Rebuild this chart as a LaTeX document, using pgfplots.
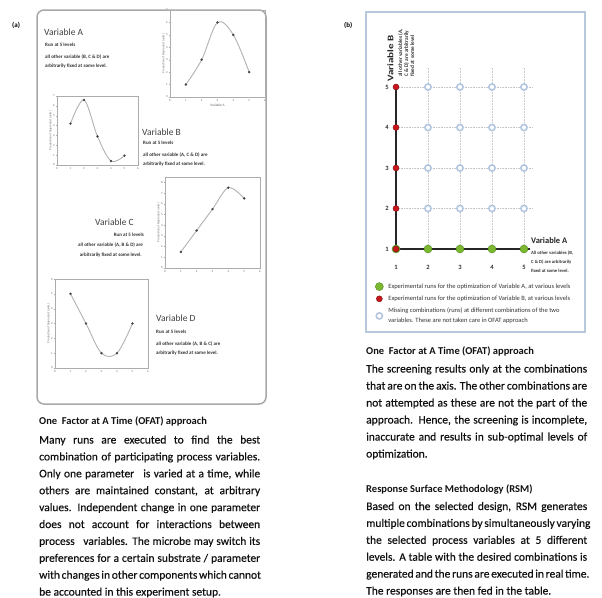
\documentclass[border=0pt]{standalone}
\usepackage{fontspec}
\setmainfont{Carlito}
\newfontface\bodyface{Carlito}[FakeBold=0.35]
\usepackage{pgfplots}
\pgfplotsset{compat=1.18}
\definecolor{frameA}{HTML}{A8A8A8}
\definecolor{frameB}{HTML}{B8C8DC}
\definecolor{ballG}{HTML}{7CB82F}
\definecolor{ballGd}{HTML}{4D8A1C}
\definecolor{ballR}{HTML}{C8161D}
\definecolor{ballRd}{HTML}{7A0A0A}
\definecolor{ringB}{HTML}{B4C6E0}
\definecolor{txt}{HTML}{111111}
\newcommand\bodyfont{\bodyface\fontsize{11.5}{17}\selectfont\color{txt}}
\newcommand\headfont{\bfseries\fontsize{10.5}{12}\selectfont\color{txt}}
\newcommand\jl[3]{\node[anchor=base west,inner sep=0pt] at (#1pt,-#2pt) {\bodyfont\makebox[221pt][s]{#3}};}
\newcommand\nl[3]{\node[anchor=base west,inner sep=0pt] at (#1pt,-#2pt) {\bodyfont #3};}
\newcommand\hl[3]{\node[anchor=base west,inner sep=0pt] at (#1pt,-#2pt) {\headfont #3};}
\newcommand\vtitle[3]{\node[anchor=west,inner sep=0pt,font=\fontsize{9.5}{10}\selectfont,text=black!75] at (#1pt,-#2pt) {#3};}
\newcommand\sm[3]{\node[anchor=west,inner sep=0pt,font=\bfseries\fontsize{5}{6}\selectfont,text=black!80] at (#1pt,-#2pt) {#3};}
\newcommand\smr[3]{\node[anchor=east,inner sep=0pt,font=\bfseries\fontsize{5}{6}\selectfont,text=black!80] at (#1pt,-#2pt) {#3};}
\pgfplotsset{
  sub/.style={scale only axis, anchor=north west, xmin=0, xmax=6, xtick={0,...,6},
    xtick pos=bottom, ytick pos=left, tick align=outside, major tick length=1.2pt,
    axis line style={draw=gray!65, line width=0.5pt}, tick style={gray!65, line width=0.3pt},
    tick label style={font=\fontsize{3}{3}\selectfont, text=black!60, inner sep=1pt},
    ylabel style={font=\fontsize{3}{3}\selectfont, text=black!60, inner sep=0pt},
    xlabel style={font=\fontsize{3.5}{3.5}\selectfont, text=black!60, inner sep=1pt},
    /pgf/number format/assume math mode=true,
    ylabel={Production of bioproduct (units)}, clip=false},
  curve/.style={smooth, tension=0.55, gray!60, line width=0.9pt, mark=*, mark size=1.1pt,
    mark options={fill=black!75, draw=black!75, line width=0.2pt}},
}
\begin{document}
\begin{tikzpicture}
\useasboundingbox (0pt,0pt) rectangle (602pt,-597pt);
\fill[white] (0pt,0pt) rectangle (602pt,-597pt);
% ---------- panel (a) ----------
\node[anchor=west,inner sep=0pt,font=\bfseries\fontsize{7}{7}\selectfont] at (12pt,-25pt) {(a)};
\draw[frameA, line width=1.5pt, rounded corners=7pt] (37pt,-10pt) rectangle (266pt,-404pt);

\begin{axis}[sub, at={(170pt,-10pt)}, width=95pt, height=87pt, ymin=0, ymax=7, ytick={0,...,7},
  xlabel={Variable A}]
\addplot[curve] coordinates {(1,1)(2,3)(3,6)(4,5)(5,2)};
\end{axis}
\begin{axis}[sub, at={(57pt,-96pt)}, width=81pt, height=69pt, ymin=0, ymax=7, ytick={0,...,7}]
\addplot[curve] coordinates {(1,4.2)(2,6.6)(3,2.9)(4,0.4)(5,0.95)};
\end{axis}
\begin{axis}[sub, at={(165pt,-177pt)}, width=95pt, height=91pt, ymin=0, ymax=8.5, ytick={0,...,8}]
\addplot[curve] coordinates {(1,1.5)(2,3.5)(3,5.5)(4,7.5)(5,6.5)};
\end{axis}
\begin{axis}[sub, at={(55pt,-279pt)}, width=93pt, height=89pt, ymin=0, ymax=6, ytick={0,...,6}]
\addplot[curve] coordinates {(1,5)(2,3)(3,1)(4,1)(5,3)};
\end{axis}

\vtitle{44}{32}{Variable A}
\sm{45}{45}{Run at 5 levels}
\sm{45}{57}{all other variable (B, C \& D) are}
\sm{45}{66}{arbitrarily fixed at some level.}

\vtitle{142}{132}{Variable B}
\sm{143}{143}{Run at 5 levels}
\sm{143}{155}{all other variable (A, C \& D) are}
\sm{143}{164}{arbitrarily fixed at some level.}

\node[anchor=east,inner sep=0pt,font=\fontsize{9.5}{10}\selectfont,text=black!75] at (134pt,-222pt) {Variable C};
\smr{144}{235}{Run at 5 levels}
\smr{143}{245}{all other variable (A, B \& D) are}
\smr{142}{255}{arbitrarily fixed at some level.}

\vtitle{156}{318}{Variable D}
\sm{156}{332}{Run at 5 levels}
\sm{156}{344}{all other variable (A, B \& C) are}
\sm{156}{353}{arbitrarily fixed at some level.}

\hl{39}{424.5}{One\hspace{0.45em}Factor at A Time (OFAT) approach}
\jl{39}{443.5}{Many runs are executed to find the best}
\jl{39}{460.4}{combination of participating process variables.}
\jl{39}{477.3}{Only one parameter\hspace{0.5em} is varied at a time, while}
\jl{39}{494.2}{others are maintained constant, at arbitrary}
\jl{39}{511.1}{values. Independent change in one parameter}
\jl{39}{528.0}{does not account for interactions between}
\jl{39}{544.9}{process\hspace{0.5em} variables. The microbe may switch its}
\jl{39}{561.8}{preferences for a certain substrate / parameter}
\jl{39}{578.7}{with changes in other components which cannot}
\nl{39}{595.6}{be accounted in this experiment setup.}

% ---------- panel (b) ----------
\node[anchor=west,inner sep=0pt,font=\bfseries\fontsize{7}{7}\selectfont] at (344pt,-25pt) {(b)};
\draw[frameB, line width=1.3pt] (366pt,-12pt) rectangle (585pt,-332pt);

\begin{axis}[at={(392.8pt,-257.1pt)}, anchor=south west, scale only axis,
  width=147.2pt, height=194.4pt, xmin=0.9, xmax=5.5, ymin=0.8, ymax=5.6,
  axis line style={draw=none}, xtick={1,...,5}, ytick={1,...,5}, major tick length=0pt,
  /pgf/number format/assume math mode=true,
  tick label style={font=\bfseries\fontsize{6.5}{6.5}\selectfont, text=black!80},
  xticklabel style={yshift=-5pt}, yticklabel style={xshift=-0.5pt},
  clip=false,
  legend style={at={(-0.12,-0.125)}, anchor=north west, draw=none, fill=none,
    font=\fontsize{6.5}{9.5}\selectfont, text=black!80, inner sep=0pt,
    cells={anchor=west, align=left}, row sep=2.2pt},
  legend image code/.code={\draw[#1] plot coordinates {(0pt,0pt)};},
  /tikz/every odd column/.append style={column sep=3pt},
]
% dotted grid
\addplot[forget plot, gray!45, densely dotted, line width=0.6pt] coordinates {(2,1)(2,5.49)};
\addplot[forget plot, gray!45, densely dotted, line width=0.6pt] coordinates {(3,1)(3,5.49)};
\addplot[forget plot, gray!45, densely dotted, line width=0.6pt] coordinates {(4,1)(4,5.49)};
\addplot[forget plot, gray!45, densely dotted, line width=0.6pt] coordinates {(5,1)(5,5.49)};
\addplot[forget plot, gray!45, densely dotted, line width=0.6pt] coordinates {(1,2)(5.28,2)};
\addplot[forget plot, gray!45, densely dotted, line width=0.6pt] coordinates {(1,3)(5.28,3)};
\addplot[forget plot, gray!45, densely dotted, line width=0.6pt] coordinates {(1,4)(5.28,4)};
\addplot[forget plot, gray!45, densely dotted, line width=0.6pt] coordinates {(1,5)(5.28,5)};
% axes
\addplot[forget plot, black!85, line width=1.2pt] coordinates {(1,1)(5.19,1)};
\addplot[forget plot, black!85, line width=1.2pt] coordinates {(1,1)(1,5)};
% runs
\addplot[only marks, mark=*, mark size=4pt, mark options={fill=ballG, draw=ballGd, line width=0.4pt}]
  coordinates {(1,1)(2,1)(3,1)(4,1)(5,1)};
\addlegendentry{Experimental runs for the optimization of Variable A, at various levels}
\addplot[only marks, mark=*, mark size=3pt, mark options={fill=ballR, draw=ballRd, line width=0.4pt}]
  coordinates {(1,1)(1,2)(1,3)(1,4)(1,5)};
\addlegendentry{Experimental runs for the optimization of Variable B, at various levels}
\addplot[only marks, mark=*, mark size=3.1pt, mark options={fill=white, draw=ringB, line width=1.6pt}]
  coordinates {(2,2)(3,2)(4,2)(5,2)(2,3)(3,3)(4,3)(5,3)(2,4)(3,4)(4,4)(5,4)(2,5)(3,5)(4,5)(5,5)};
\addlegendentry{Missing combinations (runs) at different combinations of the two\\variables. These are not taken care in OFAT approach}
\end{axis}

\node[rotate=90, anchor=west, inner sep=0pt, font=\bfseries\fontsize{8.5}{9}\selectfont, text=black!85] at (390.5pt,-82pt) {\scalebox{1.3}[1]{Variable B}};
\node[rotate=90, anchor=north west, inner sep=0pt, align=left, font=\bfseries\fontsize{5.4}{6}\selectfont, text=black!80] at (398pt,-77pt) {all other variables (A,\\C \& D) are arbitrarily\\fixed at some level};
\node[anchor=west, inner sep=0pt, font=\bfseries\fontsize{8.5}{9}\selectfont, text=black!85] at (531pt,-241pt) {Variable A};
\node[anchor=north west, inner sep=0pt, align=left, font=\bfseries\fontsize{4.7}{9}\selectfont, text=black!80] at (531pt,-250.5pt) {All other variables (B,\\C \& D) are arbitrarily\\fixed at some level.};

\hl{366}{354.5}{One\hspace{0.45em}Factor at A Time (OFAT) approach}
\jl{366}{372.5}{The screening results only at the combinations}
\jl{366}{389.5}{that are on the axis. The other combinations are}
\jl{366}{406.5}{not attempted as these are not the part of the}
\jl{366}{423.5}{approach. Hence, the screening is incomplete,}
\jl{366}{440.5}{inaccurate and results in sub-optimal levels of}
\nl{366}{457.5}{optimization.}

\hl{366}{492}{Response Surface Methodology (RSM)}
\jl{366}{510}{Based on the selected design, RSM generates}
\jl{366}{526.9}{multiple combinations by simultaneously varying}
\jl{366}{543.8}{the selected process variables at 5 different}
\jl{366}{560.7}{levels. A table with the desired combinations is}
\jl{366}{577.6}{generated and the runs are executed in real time.}
\nl{366}{594.5}{The responses are then fed in the table.}
\end{tikzpicture}
\end{document}
